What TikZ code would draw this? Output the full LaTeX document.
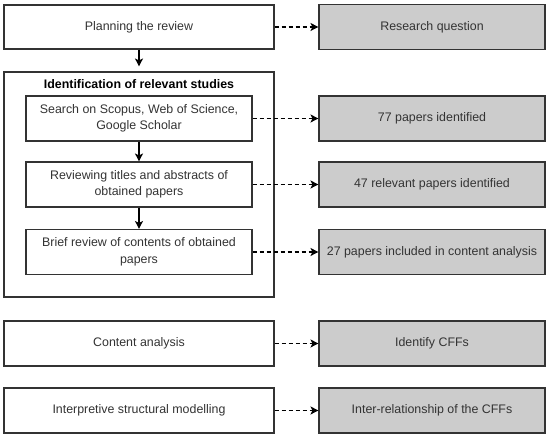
\documentclass[tikz,border=0pt]{standalone}
\usepackage{fontspec}
\setmainfont{Liberation Sans}
\usetikzlibrary{arrows.meta}

\definecolor{boxline}{HTML}{333333}
\definecolor{resultfill}{HTML}{CCCCCC}
\definecolor{labeltext}{HTML}{333333}

\tikzset{
  stepbox/.style={draw=boxline, line width=1.1pt, fill=white, text=labeltext,
    minimum width=270pt, minimum height=44pt, inner sep=2pt, align=center,
    font=\fontsize{12.4}{16.5}\selectfont},
  substep/.style={stepbox, minimum width=226pt, minimum height=45pt},
  result/.style={stepbox, fill=resultfill, minimum width=226pt, minimum height=45pt},
  flow/.style={-{Stealth[length=8pt,width=8pt,inset=2pt]}, line width=1.1pt, draw=black},
  link/.style={flow, dash pattern=on 4pt off 3pt}
}

\begin{document}
\begin{tikzpicture}[x=1pt, y=-1pt]
        \useasboundingbox (0,0) rectangle (550,438);

        % Planning
        \node[stepbox] (plan) at (139,27) {Planning the review};
        \node[result] (question) at (432,27) {Research question};

        % Identification of relevant studies
        \node[stepbox, minimum height=225pt] (ident) at (139,184.5) {};
        \node[text=black, font=\bfseries\fontsize{12.4}{15}\selectfont] (identtitle) at (139,84) {Identification of relevant studies};
        \node[substep] (search) at (139,118.5) {Search on Scopus, Web of Science,\\Google Scholar};
        \node[substep] (screen) at (139,184.5) {Reviewing titles and abstracts of\\obtained papers};
        \node[substep] (brief) at (139,252) {Brief review of contents of obtained\\papers};
        \node[result] (found) at (432,118.5) {77 papers identified};
        \node[result] (relevant) at (432,184.5) {47 relevant papers identified};
        \node[result] (included) at (432,252) {27 papers included in content analysis};

        % Analysis
        \node[stepbox, minimum height=45pt] (content) at (139,343.5) {Content analysis};
        \node[result] (cffs) at (432,343.5) {Identify CFFs};
        \node[stepbox, minimum height=45pt] (ism) at (139,410.5) {Interpretive structural modelling};
        \node[result] (relation) at (432,410.5) {Inter-relationship of the CFFs};

        % Flow
        \draw[flow, shorten >=5pt] (plan) -- (ident);
        \draw[flow] (search) -- (screen);
        \draw[flow] (screen) -- (brief);

        % Outcomes
        \draw[link] (plan) -- (question);
        \draw[link] (search) -- (found);
        \draw[link] (screen) -- (relevant);
        \draw[link] (brief) -- (included);
        \draw[link] (content) -- (cffs);
        \draw[link] (ism) -- (relation);
    \end{tikzpicture}
\end{document}
